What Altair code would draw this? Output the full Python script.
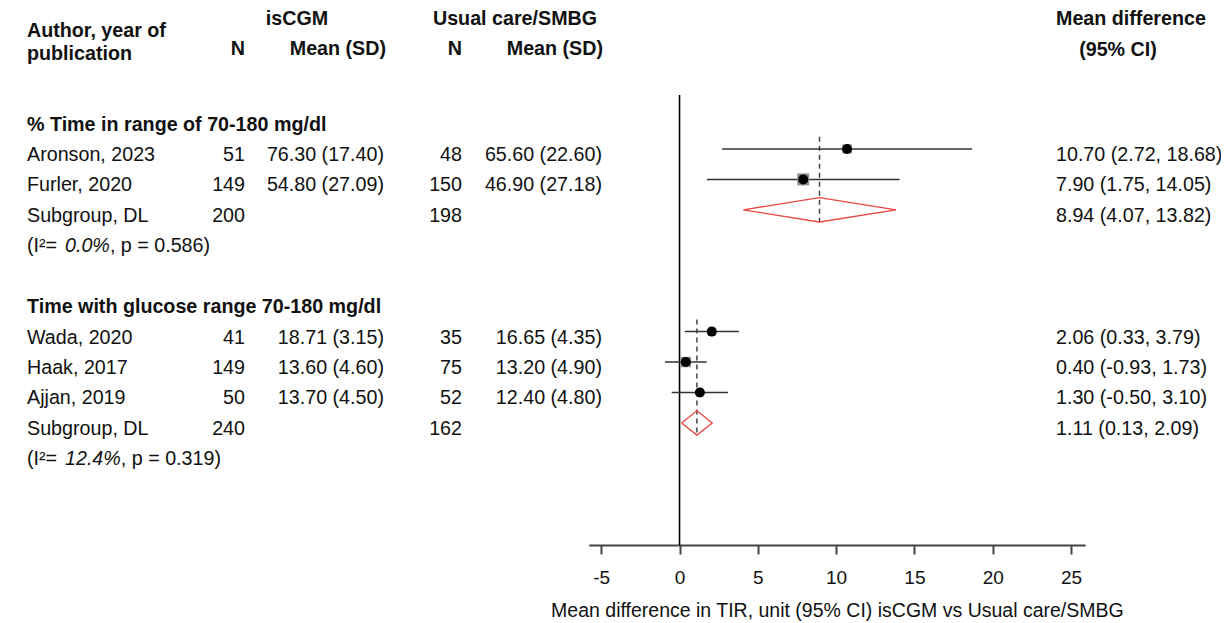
import altair as alt
import pandas as pd

# ------------------------------------------------------------------ data
group_titles = ["% Time in range of 70-180 mg/dl", "Time with glucose range 70-180 mg/dl"]
study_names = ["Aronson, 2023", "Furler, 2020", "Wada, 2020", "Haak, 2017", "Ajjan, 2019"]
study_group = [0, 0, 1, 1, 1]
n_iscgm = [51, 149, 41, 149, 50]
mean_iscgm = [76.30, 54.80, 18.71, 13.60, 13.70]
sd_iscgm = [17.40, 27.09, 3.15, 4.60, 4.50]
n_usual = [48, 150, 35, 75, 52]
mean_usual = [65.60, 46.90, 16.65, 13.20, 12.40]
sd_usual = [22.60, 27.18, 4.35, 4.90, 4.80]
md = [10.70, 7.90, 2.06, 0.40, 1.30]
md_lo = [2.72, 1.75, 0.33, -0.93, -0.50]
md_hi = [18.68, 14.05, 3.79, 1.73, 3.10]

pooled_label = ["Subgroup, DL", "Subgroup, DL"]
pooled_n_iscgm = [200, 240]
pooled_n_usual = [198, 162]
pooled_md = [8.94, 1.11]
pooled_lo = [4.07, 0.13]
pooled_hi = [13.82, 2.09]
i2_pct = [0.0, 12.4]
p_het = [0.586, 0.319]

x_ticks = [-5, 0, 5, 10, 15, 20, 25]
x_title = "Mean difference in TIR, unit (95% CI) isCGM vs Usual care/SMBG"

header_texts = ["Author, year of", "publication", "isCGM", "Usual care/SMBG",
                "N", "Mean (SD)", "N", "Mean (SD)", "Mean difference", "(95% CI)"]

# ------------------------------------------------------------------ layout / style
FONT = "Liberation Sans"
FS = 19.7
TXT = "#111111"
TOP = 8
W, H = 1213, 537 - TOP
TEXT_DY = 6
Y_DOMAIN = [-3.63 + TOP / 30.44, 14.01]
X_DOMAIN = [-5.8, 25.9]
X_RANGE = [580.7, 1077.1]
COL_X = {"author": 19, "n1": 237, "m1": 376, "n2": 454, "m2": 594, "md": 1048}
COL_ALIGN = {"author": "left", "n1": "right", "m1": "right", "n2": "right", "m2": "right", "md": "left"}
HEADER_POS = [(19, 23, "left"), (19, 46, "left"), (289, 11, "center"), (507, 11, "center"),
              (237, 41, "right"), (378, 41, "right"), (454, 41, "right"), (595, 41, "right"),
              (1048, 11, "left"), (1110, 42, "center")]
DIAMOND_HALF = 0.40
BOX_SCALE = 2.3

# ------------------------------------------------------------------ tables
body, headings, hetero, studies, pooled, diamond = [], [], [], [], [], []
r = 0
for g, title in enumerate(group_titles):
    headings.append({"row": r, "text": title})
    r += 1
    first = r
    idx = [i for i, gg in enumerate(study_group) if gg == g]
    ws = [1.0 / (((md_hi[i] - md_lo[i]) / 3.92) ** 2) for i in idx]
    for k, i in enumerate(idx):
        body.append({"row": r, "author": study_names[i], "n1": str(n_iscgm[i]),
                     "m1": f"{mean_iscgm[i]:.2f} ({sd_iscgm[i]:.2f})",
                     "n2": str(n_usual[i]), "m2": f"{mean_usual[i]:.2f} ({sd_usual[i]:.2f})",
                     "md": f"{md[i]:.2f} ({md_lo[i]:.2f}, {md_hi[i]:.2f})"})
        studies.append({"row": r, "md": md[i], "lo": md_lo[i], "hi": md_hi[i],
                        "w": 100.0 * ws[k] / sum(ws)})
        r += 1
    body.append({"row": r, "author": pooled_label[g], "n1": str(pooled_n_iscgm[g]), "m1": "",
                 "n2": str(pooled_n_usual[g]), "m2": "",
                 "md": f"{pooled_md[g]:.2f} ({pooled_lo[g]:.2f}, {pooled_hi[g]:.2f})"})
    pooled.append({"group": g, "row": r, "y": first - 0.4, "y2": r + 0.42, "md": pooled_md[g]})
    pts = [(pooled_lo[g], r), (pooled_md[g], r - DIAMOND_HALF), (pooled_hi[g], r),
           (pooled_md[g], r + DIAMOND_HALF), (pooled_lo[g], r)]
    for o, (px, py) in enumerate(pts):
        diamond.append({"group": g, "o": o, "x": px, "y": py})
    r += 1
    hetero.append({"row": r, "i2": f"{i2_pct[g]:.1f}%", "p": f", p = {p_het[g]:.3f})"})
    r += 2

body_df = pd.DataFrame(body)
head_df = pd.DataFrame(headings)
stud_df = pd.DataFrame(studies)
stud_df["box"] = stud_df["w"] * BOX_SCALE
pool_df = pd.DataFrame(pooled)
dia_df = pd.DataFrame(diamond)

xs = alt.Scale(domain=X_DOMAIN, range=X_RANGE, nice=False, zero=False)
ys = alt.Scale(domain=Y_DOMAIN, range=[0, H], nice=False, zero=False)
xaxis = alt.Axis(values=x_ticks, title=x_title, grid=False, labelExpr="'' + datum.value")


def X(field):
    return alt.X(field, type="quantitative", scale=xs, axis=xaxis)


def Y(field):
    return alt.Y(field, type="quantitative", scale=ys, axis=None)


layers = []

# zero line
layers.append(
    alt.Chart(pd.DataFrame({"x": [0.0], "y": [-0.77], "y2": [Y_DOMAIN[1]]}))
    .mark_rule(color="#000000", strokeWidth=1.6)
    .encode(x=X("x"), y=Y("y"), y2="y2:Q")
)
# dashed pooled lines
layers.append(
    alt.Chart(pool_df).mark_rule(color="#444444", strokeWidth=1.5, strokeDash=[5, 4])
    .encode(x=X("md"), y=Y("y"), y2="y2:Q")
)
# CI lines
layers.append(
    alt.Chart(stud_df).mark_rule(color="#333333", strokeWidth=1.5)
    .encode(x=X("lo"), x2="hi:Q", y=Y("row"))
)
# weight boxes
layers.append(
    alt.Chart(stud_df).mark_point(shape="square", filled=True, color="#8f8f8f", opacity=1)
    .encode(x=X("md"), y=Y("row"), size=alt.Size("box:Q", scale=None, legend=None))
)
# point estimates
layers.append(
    alt.Chart(stud_df).mark_point(shape="circle", filled=True, color="#000000", size=100, opacity=1)
    .encode(x=X("md"), y=Y("row"))
)
# diamonds
layers.append(
    alt.Chart(dia_df).mark_line(color="#e8473f", strokeWidth=1.3)
    .encode(x=X("x"), y=Y("y"), order="o:Q", detail="group:N")
)


def text_layer(df, field, x, align, **kw):
    return (
        alt.Chart(df)
        .mark_text(align=align, baseline="middle", dy=TEXT_DY, fontSize=FS, font=FONT, color=TXT, **kw)
        .encode(x=alt.value(x), y=Y("row"), text=alt.Text(f"{field}:N"))
    )


for col in ["author", "n1", "m1", "n2", "m2", "md"]:
    layers.append(text_layer(body_df, col, COL_X[col], COL_ALIGN[col]))
layers.append(text_layer(head_df, "text", COL_X["author"], "left", fontWeight="bold"))

# heterogeneity rows: "(I²= " + italic value + ", p = ...)"
hdf = pd.DataFrame(hetero)
hdf["pre"] = "(I\u00b2= "
layers.append(text_layer(hdf, "pre", COL_X["author"], "left"))
layers.append(text_layer(hdf, "i2", COL_X["author"] + 38, "left", fontStyle="italic"))
CW = {"0": 0.556, "1": 0.556, "2": 0.556, "3": 0.556, "4": 0.556, "5": 0.556,
      "6": 0.556, "7": 0.556, "8": 0.556, "9": 0.556, ".": 0.278, "%": 0.889}
for _, row in hdf.iterrows():
    wpx = sum(CW.get(c, 0.556) for c in row["i2"]) * FS
    layers.append(text_layer(pd.DataFrame([row]), "p", COL_X["author"] + 38 + wpx, "left"))

# headers
for txt, (hx, hy, ha) in zip(header_texts, HEADER_POS):
    layers.append(
        alt.Chart(pd.DataFrame({"t": [txt]}))
        .mark_text(align=ha, baseline="middle", fontSize=FS, font=FONT, color=TXT, fontWeight="bold")
        .encode(x=alt.value(hx), y=alt.value(hy - TOP), text="t:N")
    )

chart = (
    alt.layer(*layers)
    .properties(width=W, height=H, autosize=alt.AutoSizeParams(type="none"),
                padding={"left": 0, "top": TOP, "right": 0, "bottom": 76})
    .configure(font=FONT)
    .configure_view(stroke=None)
    .configure_axis(domainColor="#444444", domainWidth=2, tickColor="#444444", tickWidth=2,
                    tickSize=9, labelFontSize=19, labelColor=TXT, labelFont=FONT, labelPadding=14,
                    titleFontSize=19.5, titleFontWeight="normal", titleColor=TXT, titleFont=FONT,
                    titlePadding=14)
)

chart.save("out.html", embed_options={"renderer": "svg", "actions": False})
